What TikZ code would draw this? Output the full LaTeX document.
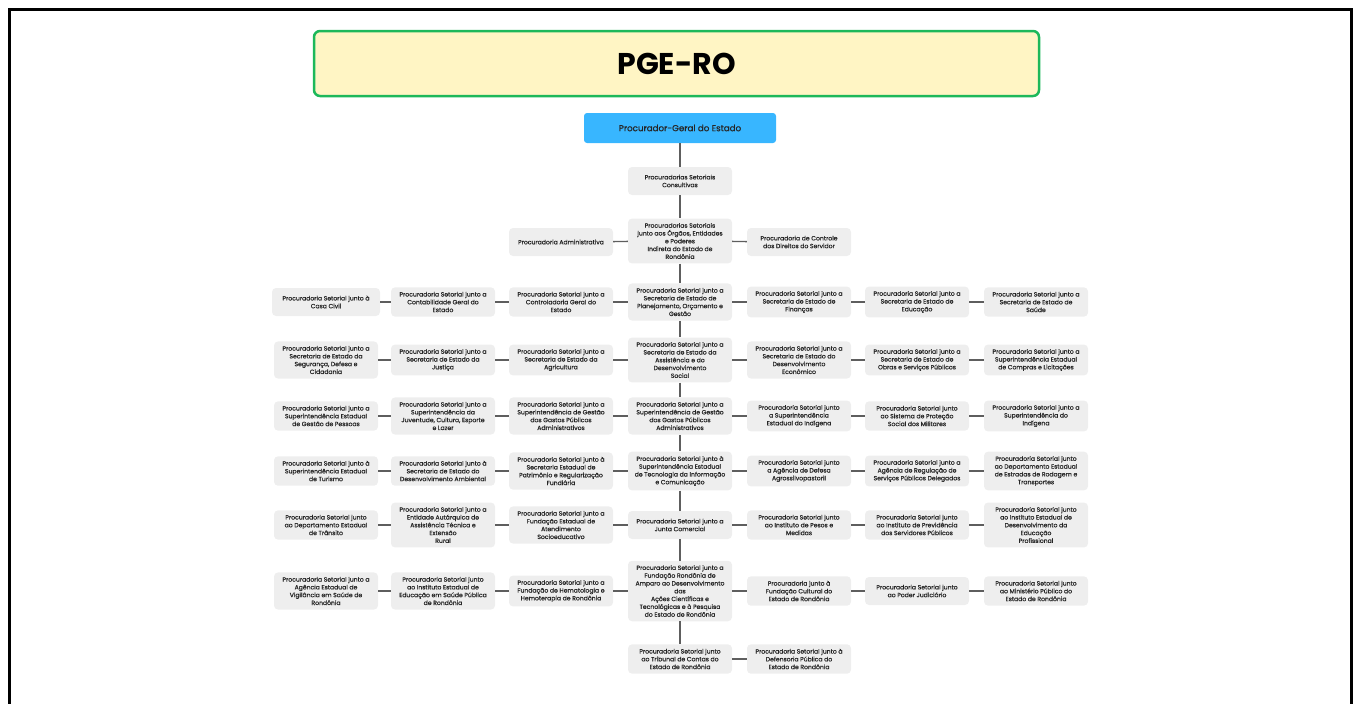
\documentclass[tikz,border=0pt]{standalone}
\usepackage{fontspec}
\setmainfont{Poppins}
\newfontfamily\boxfont[FakeBold=0.7]{Poppins}

\definecolor{boxgray}{HTML}{EEEEEE}
\definecolor{linegray}{HTML}{5E5E5E}
\definecolor{titlefill}{HTML}{FFF5C4}
\definecolor{titlegreen}{HTML}{1DB85A}
\definecolor{chiefblue}{HTML}{38B6FF}

\begin{document}
\begin{tikzpicture}[x=1pt,y=-1pt]

        \useasboundingbox (0,0) rectangle (1360,704);
        \draw[line width=3pt] (9,704) -- (9,9) -- (1351,9) -- (1351,704);

        \node[draw=titlegreen, line width=2.5pt, fill=titlefill, rounded corners=6pt,
              minimum width=725pt, minimum height=65pt, font=\fontsize{30}{34}\selectfont\bfseries]
              (title) at (676.5,63.5) {PGE-RO};

        \node[fill=chiefblue, rounded corners=3pt, minimum width=192pt, minimum height=30pt,
              text=black!85, font=\fontsize{8.7}{10}\selectfont\boxfont]
              (chief) at (680,128) {Procurador-Geral do Estado};

        \begin{scope}[every node/.style={fill=boxgray, rounded corners=4pt, align=center,
                      minimum width=104pt, minimum height=28pt, inner xsep=3pt, inner ysep=4.5pt,
                      text=black!85, font=\fontsize{6.1}{7.8}\selectfont\boxfont}]
          \node (cons) at (680,181) {Procuradorias Setoriais\\Consultivas};
          \node (ind)  at (680,241) {Procuradorias Setoriais\\junto aos Órgãos, Entidades\\e Poderes\\Indireta do Estado de\\Rondônia};
          \node (adm)  at (561,242) {Procuradoria Administrativa};
          \node (ctrl) at (799,242) {Procuradoria de Controle\\dos Direitos do Servidor};

          % linha 1
          \node[minimum width=108pt] (11) at (326,302) {Procuradoria Setorial junto à\\Casa Civil};
          \node (12) at (443,302) {Procuradoria Setorial junto a\\Contabilidade Geral do\\Estado};
          \node (13) at (561,302) {Procuradoria Setorial junto a\\Controladoria Geral do\\Estado};
          \node (14) at (680,302) {Procuradoria Setorial junto a\\Secretaria de Estado de\\Planejamento, Orçamento e\\Gestão};
          \node (15) at (799,302) {Procuradoria Setorial junto a\\Secretaria de Estado de\\Finanças};
          \node (16) at (917,302) {Procuradoria Setorial junto a\\Secretaria de Estado de\\Educação};
          \node (17) at (1036,302) {Procuradoria Setorial junto a\\Secretaria de Estado de\\Saúde};

          % linha 2
          \node (21) at (326,360) {Procuradoria Setorial junto a\\Secretaria de Estado da\\Segurança, Defesa e\\Cidadania};
          \node (22) at (443,360) {Procuradoria Setorial junto a\\Secretaria de Estado da\\Justiça};
          \node (23) at (561,360) {Procuradoria Setorial junto a\\Secretaria de Estado da\\Agricultura};
          \node (24) at (680,360) {Procuradoria Setorial junto a\\Secretaria de Estado da\\Assistência e do\\Desenvolvimento\\Social};
          \node (25) at (799,360) {Procuradoria Setorial junto a\\Secretaria de Estado do\\Desenvolvimento\\Econômico};
          \node (26) at (917,360) {Procuradoria Setorial junto a\\Secretaria de Estado de\\Obras e Serviços Públicos};
          \node (27) at (1036,360) {Procuradoria Setorial junto a\\Superintendência Estadual\\de Compras e Licitações};

          % linha 3
          \node (31) at (326,416) {Procuradoria Setorial junto a\\Superintendência Estadual\\de Gestão de Pessoas};
          \node (32) at (443,416) {Procuradoria Setorial junto a\\Superintendência da\\Juventude, Cultura, Esporte\\e Lazer};
          \node (33) at (561,416) {Procuradoria Setorial junto a\\Superintendência de Gestão\\dos Gastos Públicos\\Administrativos};
          \node (34) at (680,416) {Procuradoria Setorial junto a\\Superintendência de Gestão\\dos Gastos Públicos\\Administrativos};
          \node (35) at (799,416) {Procuradoria Setorial junto\\a Superintendência\\Estadual do Indígena};
          \node (36) at (917,416) {Procuradoria Setorial junto\\ao Sistema de Proteção\\Social dos Militares};
          \node (37) at (1036,416) {Procuradoria Setorial junto a\\Superintendência do\\Indígena};

          % linha 4
          \node (41) at (326,471) {Procuradoria Setorial junto à\\Superintendência Estadual\\de Turismo};
          \node (42) at (443,471) {Procuradoria Setorial junto à\\Secretaria de Estado do\\Desenvolvimento Ambiental};
          \node (43) at (561,471) {Procuradoria Setorial junto à\\Secretaria Estadual de\\Patrimônio e Regularização\\Fundiária};
          \node (44) at (680,471) {Procuradoria Setorial junto à\\Superintendência Estadual\\de Tecnologia da Informação\\e Comunicação};
          \node (45) at (799,471) {Procuradoria Setorial junto\\a Agência de Defesa\\Agrossilvopastoril};
          \node (46) at (917,471) {Procuradoria Setorial junto a\\Agência de Regulação de\\Serviços Públicos Delegados};
          \node (47) at (1036,471) {Procuradoria Setorial junto\\ao Departamento Estadual\\de Estradas de Rodagem e\\Transportes};

          % linha 5
          \node (51) at (326,525) {Procuradoria Setorial junto\\ao Departamento Estadual\\de Trânsito};
          \node (52) at (443,525) {Procuradoria Setorial junto a\\Entidade Autárquica de\\Assistência Técnica e\\Extensão\\Rural};
          \node (53) at (561,525) {Procuradoria Setorial junto a\\Fundação Estadual de\\Atendimento\\Socioeducativo};
          \node (54) at (680,525) {Procuradoria Setorial junto a\\Junta Comercial};
          \node (55) at (799,525) {Procuradoria Setorial junto\\ao Instituto de Pesos e\\Medidas};
          \node (56) at (917,525) {Procuradoria Setorial junto\\ao Instituto de Previdência\\dos Servidores Públicos};
          \node (57) at (1036,525) {Procuradoria Setorial junto\\ao Instituto Estadual de\\Desenvolvimento da\\Educação\\Profissional};

          % linha 6
          \node (61) at (326,591) {Procuradoria Setorial junto a\\Agência Estadual de\\Vigilância em Saúde de\\Rondônia};
          \node (62) at (443,591) {Procuradoria Setorial junto\\ao Instituto Estadual de\\Educação em Saúde Pública\\de Rondônia};
          \node (63) at (561,591) {Procuradoria Setorial junto a\\Fundação de Hematologia e\\Hemoterapia de Rondônia};
          \node (64) at (680,591) {Procuradoria Setorial junto a\\Fundação Rondônia de\\Amparo ao Desenvolvimento\\das\\Ações Científicas e\\Tecnológicas e à Pesquisa\\do Estado de Rondônia};
          \node (65) at (799,591) {Procuradoria junto à\\Fundação Cultural do\\Estado de Rondônia};
          \node (66) at (917,591) {Procuradoria Setorial junto\\ao Poder Judiciário};
          \node (67) at (1036,591) {Procuradoria Setorial junto\\ao Ministério Público do\\Estado de Rondônia};

          % linha 7
          \node (74) at (680,659) {Procuradoria Setorial junto\\ao Tribunal de Contas do\\Estado de Rondônia};
          \node (75) at (799,659) {Procuradoria Setorial junto à\\Defensoria Pública do\\Estado de Rondônia};
        \end{scope}

        \begin{scope}[every edge/.style={draw=linegray, line width=1.4pt}]
          \path (chief) edge (cons);
          \path (cons)  edge (ind);
          \path (adm)   edge (ind);
          \path (ind)   edge (ctrl);
          \path (ind)   edge (14);
          \foreach \r [evaluate=\r as \s using int(\r+1)] in {1,...,6} {
            \path (\r4) edge (\s4);
            \foreach \c [evaluate=\c as \d using int(\c+1)] in {1,...,6} {
              \path (\r\c) edge (\r\d);
            }
          }
          \path (74) edge (75);
        \end{scope}

      \end{tikzpicture}
\end{document}
